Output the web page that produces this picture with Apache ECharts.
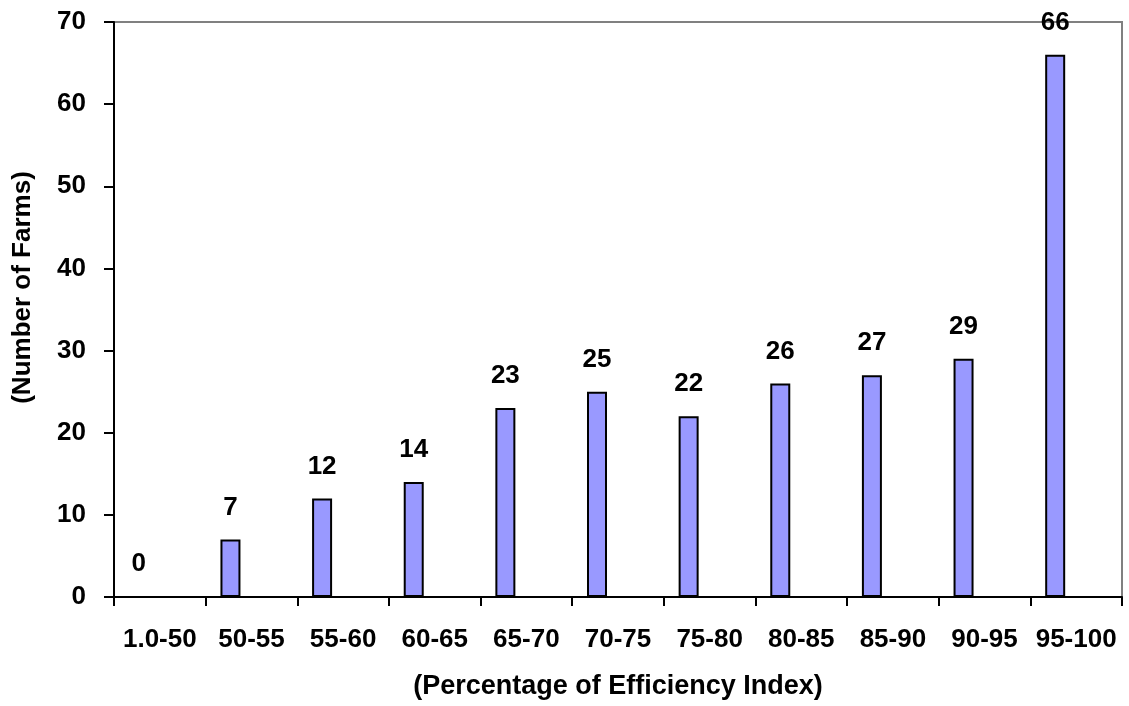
<!DOCTYPE html>
<html>
<head>
<meta charset="utf-8">
<style>
  html, body { margin: 0; padding: 0; background: #fff; }
  #chart { width: 1129px; height: 706px; }
</style>
<script src="https://cdn.jsdelivr.net/npm/echarts@6/dist/echarts.min.js"></script>
</head>
<body>
<div id="chart"></div>
<script>
// categories (efficiency index ranges)
var categories = ['1.0-50', '50-55', '55-60', '60-65', '65-70', '70-75', '75-80', '80-85', '85-90', '90-95', '95-100'];
// number of farms per range
var farms = [0, 7, 12, 14, 23, 25, 22, 26, 27, 29, 66];
// empty second series, only there to push the bars left of the band centre (as in the original)
var spacer = [null, null, null, null, null, null, null, null, null, null, null];

var font = 'Arial, "Liberation Sans", sans-serif';
var chart = echarts.init(document.getElementById('chart'));

chart.setOption({
    animation: false,
    grid: {
        left: 114,
        right: 7,
        top: 22,
        bottom: 109,
        show: true,
        borderColor: '#808080',
        borderWidth: 2
    },
    xAxis: {
        type: 'category',
        data: categories,
        name: '(Percentage of Efficiency Index)',
        nameLocation: 'middle',
        nameGap: 76,
        nameTextStyle: { fontFamily: font, fontWeight: 'bold', fontSize: 27, color: '#000' },
        axisLine: { lineStyle: { color: '#000', width: 2 } },
        axisTick: { show: true, length: 9, lineStyle: { color: '#000', width: 2 } },
        axisLabel: { fontFamily: font, fontWeight: 'bold', fontSize: 26, color: '#000', margin: 30, interval: 0 }
    },
    yAxis: {
        type: 'value',
        min: 0,
        max: 70,
        interval: 10,
        name: '(Number of Farms)',
        nameLocation: 'middle',
        nameGap: 78,
        nameTextStyle: { fontFamily: font, fontWeight: 'bold', fontSize: 26, color: '#000', padding: [0, 0, 0, 44] },
        splitLine: { show: false },
        axisLine: { show: true, lineStyle: { color: '#000', width: 2 } },
        axisTick: { show: true, length: 10, lineStyle: { color: '#000', width: 2 } },
        axisLabel: { fontFamily: font, fontWeight: 'bold', fontSize: 26, color: '#000', margin: 28 }
    },
    series: [
        {
            name: 'Farms',
            type: 'bar',
            data: farms,
            barWidth: 20,
            barGap: '110%',
            itemStyle: { color: '#9999ff', borderColor: '#000', borderWidth: 2 },
            label: {
                show: true,
                position: 'top',
                distance: 19,
                fontFamily: font,
                fontWeight: 'bold',
                fontSize: 26,
                color: '#000'
            }
        },
        {
            name: 'spacer',
            type: 'bar',
            data: spacer,
            barWidth: 20,
            silent: true
        }
    ]
});
</script>
</body>
</html>
